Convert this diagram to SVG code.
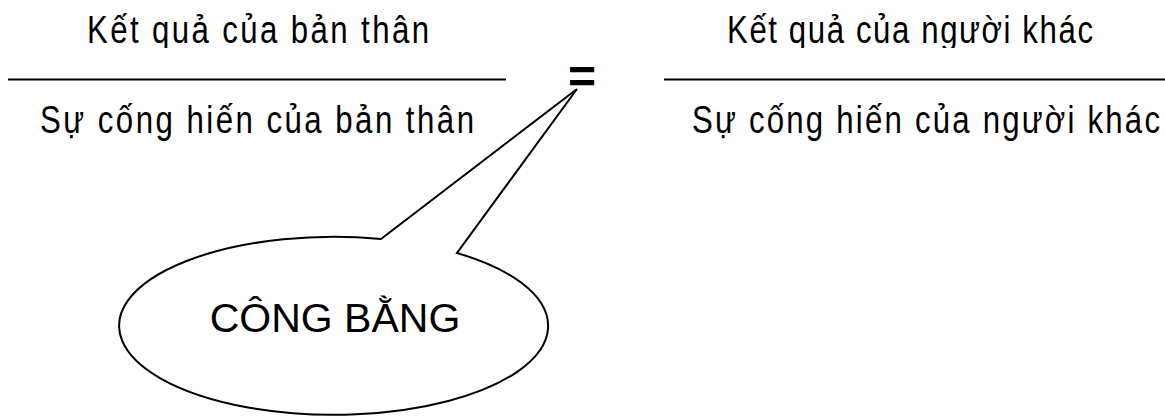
<svg xmlns="http://www.w3.org/2000/svg" width="1165" height="417" viewBox="0 0 1165 417">
  <defs>
    <clipPath id="topclip"><rect x="0" y="-100" width="2000" height="148"/></clipPath>
    <style>
      .frac { font-family: "Liberation Sans", Arial, sans-serif; font-size: 39px; fill: #000; }
      .bar { stroke: #000; stroke-width: 2; fill: none; }
      .callout { fill: #fff; stroke: #000; stroke-width: 2; stroke-linejoin: miter; }
      .label { font-family: "Liberation Sans", Arial, sans-serif; font-size: 41px; fill: #000; }
      .eq { font-family: "Liberation Sans", Arial, sans-serif; font-weight: bold; font-size: 48px; fill: #000; }
    </style>
  </defs>
  <rect width="1165" height="417" fill="#fff"/>

  <g id="fraction-self">
    <g clip-path="url(#topclip)">
      <text class="frac" transform="translate(87 43) scale(0.8 1)" x="0" y="0" textLength="427.5">Kết quả của bản thân</text>
    </g>
    <line class="bar" x1="8" y1="79.5" x2="506" y2="79.5"/>
    <text class="frac" transform="translate(40 133) scale(0.8 1)" x="0" y="0" textLength="542.5">Sự cống hiến của bản thân</text>
  </g>

  <g id="equals">
    <text class="eq" x="582" y="93" text-anchor="middle">=</text>
  </g>

  <g id="fraction-others">
    <g clip-path="url(#topclip)">
      <text class="frac" transform="translate(727 43) scale(0.8 1)" x="0" y="0" textLength="457.5">Kết quả của người khác</text>
    </g>
    <line class="bar" x1="664" y1="79.5" x2="1165" y2="79.5"/>
    <text class="frac" transform="translate(692 133) scale(0.8 1)" x="0" y="0" textLength="585">Sự cống hiến của người khác</text>
  </g>

  <g id="callout">
    <path class="callout" d="M 381 239 L 577 89 L 457 253 A 214.5 89 0 1 1 381 239 Z"/>
    <text class="label" x="335" y="332" text-anchor="middle">CÔNG BẰNG</text>
  </g>
</svg>
